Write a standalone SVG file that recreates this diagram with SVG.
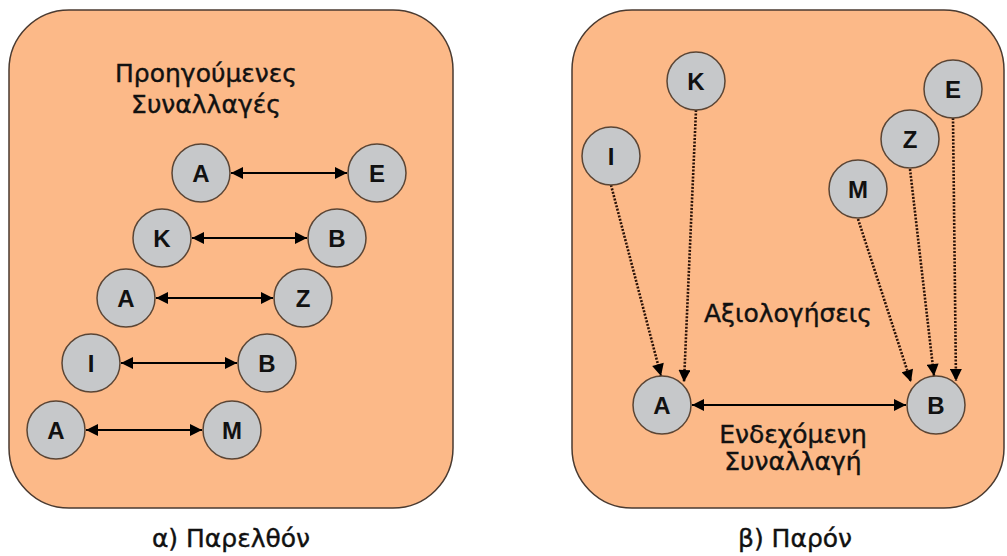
<svg xmlns="http://www.w3.org/2000/svg" width="1007" height="556" viewBox="0 0 1007 556">
<style>
.panel{fill:#FCB988;stroke:#4a3a30;stroke-width:1.5}
.node circle{fill:#C6C8CA;stroke:#5a4535;stroke-width:1.5}
.node text{font-family:"Liberation Sans",Arial,sans-serif;font-weight:bold;font-size:24px;fill:#111;text-anchor:middle}
.lbl{font-family:"DejaVu Sans","Noto Sans",sans-serif;font-size:25px;fill:#111;text-anchor:middle;stroke:#111;stroke-width:0.4}
.solid{stroke:#000;stroke-width:2;fill:none;marker-start:url(#ah);marker-end:url(#ah)}
.dot{stroke:#2a1208;stroke-width:2.6;stroke-dasharray:2 1.5;fill:none;marker-end:url(#ah)}
</style>
<defs>
<marker id="ah" viewBox="0 0 10 10" refX="10" refY="5" markerWidth="13" markerHeight="12" markerUnits="userSpaceOnUse" orient="auto-start-reverse">
<path d="M0,0 L10,5 L0,10 z" fill="#000"/>
</marker>
</defs>
<g id="panel-left"><rect class="panel" x="9" y="10" width="444" height="498" rx="60" ry="60"/></g>
<g id="panel-right"><rect class="panel" x="572" y="10" width="432" height="498" rx="60" ry="60"/></g>
<text class="lbl" x="206" y="82">Προηγούμενες</text>
<text class="lbl" x="206" y="113">Συναλλαγές</text>
<text class="lbl" x="231" y="547">α) Παρελθόν</text>
<text class="lbl" x="795" y="547">β) Παρόν</text>
<text class="lbl" x="788" y="322">Αξιολογήσεις</text>
<text class="lbl" x="793" y="443">Ενδεχόμενη</text>
<text class="lbl" x="793" y="470">Συναλλαγή</text>
<g id="connectors">
<line class="solid" x1="231" y1="173" x2="347" y2="173"/>
<line class="solid" x1="192" y1="238" x2="307" y2="238"/>
<line class="solid" x1="156" y1="298" x2="273" y2="298"/>
<line class="solid" x1="121" y1="363" x2="237" y2="363"/>
<line class="solid" x1="86" y1="430" x2="202" y2="430"/>
<line class="solid" x1="692" y1="405" x2="906" y2="405"/>
<line class="dot" x1="611" y1="185" x2="661" y2="376"/>
<line class="dot" x1="696" y1="110" x2="684" y2="382"/>
<line class="dot" x1="858" y1="219" x2="911" y2="382"/>
<line class="dot" x1="910" y1="169" x2="934" y2="376"/>
<line class="dot" x1="953" y1="118" x2="956" y2="381"/>
</g>
<g id="n-A1" class="node"><circle cx="201" cy="173" r="29"/><text x="201" y="182">A</text></g>
<g id="n-E1" class="node"><circle cx="377" cy="173" r="29"/><text x="377" y="182">E</text></g>
<g id="n-K1" class="node"><circle cx="162" cy="238" r="29"/><text x="162" y="247">K</text></g>
<g id="n-B1" class="node"><circle cx="337" cy="238" r="29"/><text x="337" y="247">B</text></g>
<g id="n-A2" class="node"><circle cx="126" cy="298" r="29"/><text x="126" y="307">A</text></g>
<g id="n-Z1" class="node"><circle cx="303" cy="298" r="29"/><text x="303" y="307">Z</text></g>
<g id="n-I1" class="node"><circle cx="91" cy="363" r="29"/><text x="91" y="372">I</text></g>
<g id="n-B2" class="node"><circle cx="267" cy="363" r="29"/><text x="267" y="372">B</text></g>
<g id="n-A3" class="node"><circle cx="56" cy="430" r="29"/><text x="56" y="439">A</text></g>
<g id="n-M1" class="node"><circle cx="232" cy="430" r="29"/><text x="232" y="439">M</text></g>
<g id="n-K2" class="node"><circle cx="696" cy="81" r="29"/><text x="696" y="90">K</text></g>
<g id="n-I2" class="node"><circle cx="611" cy="156" r="29"/><text x="611" y="165">I</text></g>
<g id="n-E2" class="node"><circle cx="953" cy="89" r="29"/><text x="953" y="98">E</text></g>
<g id="n-Z2" class="node"><circle cx="910" cy="139" r="29"/><text x="910" y="148">Z</text></g>
<g id="n-M2" class="node"><circle cx="858" cy="189" r="29"/><text x="858" y="198">M</text></g>
<g id="n-A4" class="node"><circle cx="662" cy="405" r="29"/><text x="662" y="414">A</text></g>
<g id="n-B3" class="node"><circle cx="936" cy="405" r="29"/><text x="936" y="414">B</text></g>
</svg>
